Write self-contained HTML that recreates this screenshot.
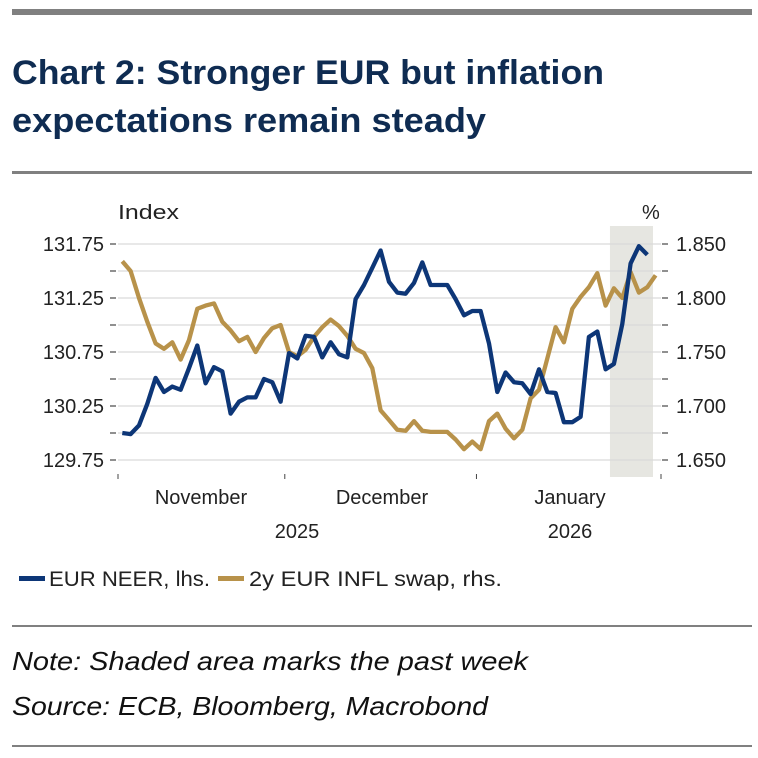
<!DOCTYPE html>
<html><head><meta charset="utf-8"><style>
body{margin:0;background:#fff;width:758px;height:758px;overflow:hidden}
svg{display:block;font-family:"Liberation Sans",sans-serif}
</style></head><body>
<svg width="758" height="758" viewBox="0 0 758 758">
<rect x="12" y="9" width="740" height="6" fill="#808080"/>
<text x="12" y="84" font-size="34" font-weight="bold" fill="#0f2c52" textLength="592" lengthAdjust="spacingAndGlyphs">Chart 2: Stronger EUR but inflation</text>
<text x="12" y="132" font-size="34" font-weight="bold" fill="#0f2c52" textLength="474" lengthAdjust="spacingAndGlyphs">expectations remain steady</text>
<rect x="12" y="171" width="740" height="3" fill="#808080"/>
<g id="plot"></g>
<text x="118" y="219" font-size="20" fill="#222" textLength="61" lengthAdjust="spacingAndGlyphs">Index</text>
<text x="642" y="219" font-size="20" fill="#222">%</text>
<g>
<rect x="19" y="576" width="26" height="5" fill="#0d3677"/>
<text x="49" y="586" font-size="21" fill="#222" textLength="161" lengthAdjust="spacingAndGlyphs">EUR NEER, lhs.</text>
<rect x="218" y="576" width="26" height="5" fill="#b8924a"/>
<text x="249" y="586" font-size="21" fill="#222" textLength="253" lengthAdjust="spacingAndGlyphs">2y EUR INFL swap, rhs.</text>
</g>
<rect x="12" y="625" width="740" height="2" fill="#808080"/>
<text x="12" y="670" font-size="26" font-style="italic" fill="#111" textLength="516" lengthAdjust="spacingAndGlyphs">Note: Shaded area marks the past week</text>
<text x="12" y="715" font-size="26" font-style="italic" fill="#111" textLength="476" lengthAdjust="spacingAndGlyphs">Source: ECB, Bloomberg, Macrobond</text>
<rect x="12" y="745" width="740" height="2" fill="#808080"/>
</svg>
<script>
const leftTicks=[131.75,131.25,130.75,130.25,129.75];
const leftTickLabels=["131.75","131.25","130.75","130.25","129.75"];
const rightTickLabels=["1.850","1.800","1.750","1.700","1.650"];
const rightTicks=[1.85,1.80,1.75,1.70,1.65];
const monthLabels=["November","December","January"];
const yearLabels=["2025","2026"];
const neer=[130.00,129.99,130.07,130.27,130.51,130.38,130.43,130.40,130.60,130.81,130.46,130.61,130.57,130.18,130.29,130.33,130.33,130.50,130.47,130.29,130.74,130.69,130.90,130.89,130.70,130.84,130.73,130.70,131.24,131.37,131.53,131.69,131.40,131.30,131.29,131.39,131.58,131.37,131.37,131.37,131.24,131.09,131.13,131.13,130.83,130.38,130.56,130.47,130.46,130.36,130.59,130.38,130.37,130.10,130.10,130.15,130.89,130.94,130.59,130.64,131.01,131.57,131.73,131.65];
const swap=[1.834,1.825,1.800,1.778,1.758,1.753,1.759,1.743,1.761,1.790,1.793,1.795,1.778,1.770,1.760,1.764,1.750,1.763,1.772,1.775,1.750,1.746,1.752,1.764,1.773,1.780,1.774,1.765,1.753,1.749,1.735,1.696,1.687,1.678,1.677,1.686,1.677,1.676,1.676,1.676,1.669,1.660,1.667,1.660,1.686,1.693,1.679,1.670,1.678,1.707,1.715,1.744,1.773,1.759,1.790,1.801,1.810,1.823,1.793,1.809,1.800,1.824,1.805,1.810,1.821];
const monthStartIdx=[-0.5,19.5,42.5,65];
const shadeStartIdx=59;

const NS="http://www.w3.org/2000/svg";
const g=document.getElementById('plot');
const X0=122.3,DX=8.333;
const xs=i=>X0+i*DX;
const yL=v=>244+(131.75-v)*108;
const yR=v=>244+(1.85-v)*1080;
function mk(t,a){const e=document.createElementNS(NS,t);for(const k in a)e.setAttribute(k,a[k]);g.appendChild(e);return e;}

const sh=mk('rect',{x:xs(shadeStartIdx)-4,y:226,width:653-(xs(shadeStartIdx)-4),height:251,fill:'#e6e6e1'});



for(let k=0;k<9;k++){
  const v=131.75-k*0.25;
  const ln=mk('line',{x1:118,x2:661,y1:yL(v),y2:yL(v),stroke:'#d9d9d9','stroke-width':1.2});
  
  
  const t1=mk('line',{x1:110,x2:116,y1:yL(v),y2:yL(v),stroke:'#222','stroke-width':1});
  
  
  const t2=mk('line',{x1:662,x2:668,y1:yL(v),y2:yL(v),stroke:'#222','stroke-width':1});
  
  
}
leftTicks.forEach((v,i)=>{
  const t=mk('text',{x:104,y:yL(v)+7,'font-size':20,fill:'#222','text-anchor':'end'});
  t.textContent=leftTickLabels[i];
  
  
});
rightTicks.forEach((v,i)=>{
  const t=mk('text',{x:676,y:yR(v)+7,'font-size':20,fill:'#222'});
  t.textContent=rightTickLabels[i];
  
  
});
monthStartIdx.forEach((m,i)=>{
  const x=i===0?118:(i===3?661:xs(m));
  const tk=mk('line',{x1:x,x2:x,y1:474,y2:479,stroke:'#444','stroke-width':1});
  
  
});
const monthCenters=[201,382,570];
monthLabels.forEach((m,i)=>{
  const t=mk('text',{x:monthCenters[i],y:504,'font-size':20,fill:'#222','text-anchor':'middle'});
  t.textContent=m;
  
  
});
[297,570].forEach((x,i)=>{
  const t=mk('text',{x:x,y:538,'font-size':20,fill:'#222','text-anchor':'middle'});
  t.textContent=yearLabels[i];
  
  
});
function line(data,yf,col,name){
  const d=data.map((v,i)=>(i?'L':'M')+xs(i).toFixed(1)+','+yf(v).toFixed(1)).join('');
  const p=mk('path',{d:d,fill:'none',stroke:col,'stroke-width':4.3,'stroke-linejoin':'round'});
  
  
}
line(swap,yR,'#b8924a','swap-line');
line(neer,yL,'#0d3677','neer-line');
</script>
</body></html>
